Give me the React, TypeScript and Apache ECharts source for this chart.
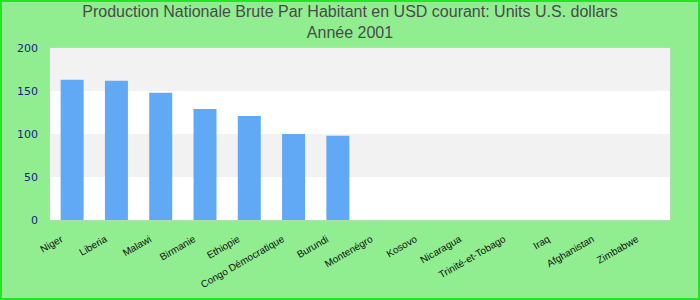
import React, { useEffect, useRef } from "react";
import * as echarts from "echarts";

const categories = [
  "Niger", "Liberia", "Malawi", "Birmanie", "Ethiopie", "Congo Démocratique", "Burundi",
  "Montenégro", "Kosovo", "Nicaragua", "Trinité-et-Tobago", "Iraq", "Afghanistan", "Zimbabwe",
];
const values: (number | null)[] = [163, 162, 148, 129, 121, 100, 98, null, null, null, null, null, null, null];
const titleLines = ["Production Nationale Brute Par Habitant en USD courant: Units U.S. dollars", "Année 2001"];

export default function App() {
  const ref = useRef<HTMLDivElement>(null);
  useEffect(() => {
    const chart = echarts.init(ref.current!, null, { renderer: "svg" });
    chart.setOption({
      animation: false,
      backgroundColor: "#90ee90",
      title: {
        text: titleLines.join("\n"),
        left: "center",
        top: -4,
        textStyle: { fontFamily: "Liberation Sans", fontSize: 16, fontWeight: "normal", color: "#4a4a4a", lineHeight: 21 },
      },
      grid: { left: 50, right: 30, top: 48, bottom: 80, show: true, borderColor: "#cccccc", borderWidth: 1 },
      xAxis: {
        type: "category",
        data: categories,
        axisLine: { show: false },
        axisTick: { show: false },
        axisLabel: {
          interval: 0, rotate: 30, margin: 12, padding: [0, 12, 0, 0],
          fontFamily: "Liberation Sans", fontSize: 10, color: "#111",
        },
      },
      yAxis: {
        type: "value",
        min: 0,
        max: 200,
        interval: 50,
        axisLine: { show: false },
        axisTick: { show: false },
        splitLine: { show: false },
        splitArea: { show: true, areaStyle: { color: ["#ffffff", "#f2f2f2"] } },
        axisLabel: { fontFamily: "DejaVu Sans", fontSize: 11, color: "#1a1a8c", margin: 12 },
      },
      series: [
        { type: "bar", data: values, barWidth: 23, itemStyle: { color: "#62a9f5" } },
      ],
    });
    return () => chart.dispose();
  }, []);
  return (
    <div style={{ position: "absolute", left: 0, top: 0, width: 700, height: 300, boxSizing: "border-box", border: "2px solid #22e622" }}>
      <div ref={ref} style={{ position: "absolute", left: -2, top: -2, width: 700, height: 300, zIndex: -1 }} />
    </div>
  );
}
